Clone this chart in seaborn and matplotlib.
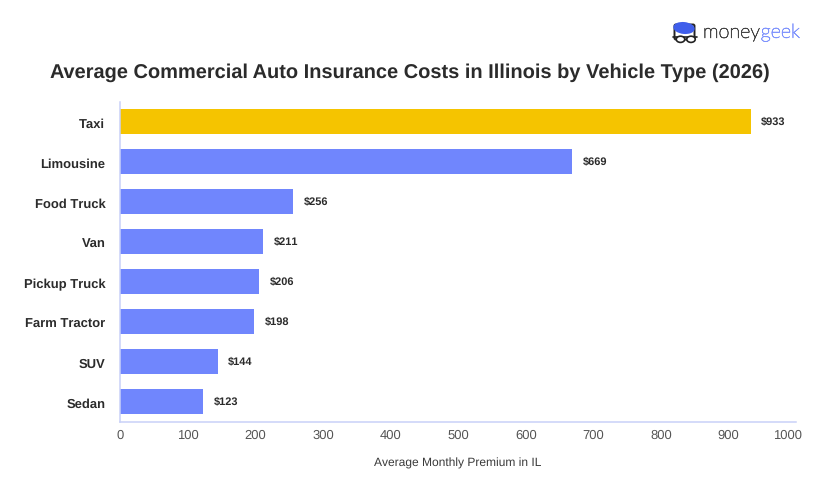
import matplotlib
matplotlib.use("Agg")
import matplotlib.pyplot as plt
import matplotlib.patheffects as pe
from matplotlib.patches import Ellipse, FancyBboxPatch
from matplotlib.transforms import ScaledTranslation
import pandas as pd
import seaborn as sns

vehicle_types = ["Taxi", "Limousine", "Food Truck", "Van", "Pickup Truck", "Farm Tractor", "SUV", "Sedan"]
premiums = [933, 669, 256, 211, 206, 198, 144, 123]
highlighted = "Taxi"

TITLE = "Average Commercial Auto Insurance Costs in Illinois by Vehicle Type (2026)"
X_LABEL = "Average Monthly Premium in IL"
X_TICKS = [0, 100, 200, 300, 400, 500, 600, 700, 800, 900, 1000]

BLUE = "#7086FD"
GOLD = "#F5C400"
AXIS = "#C9D1F8"
DARK = "#2B2B2B"
W, H = 820, 500

sns.set_theme(style="white")
plt.rcParams["font.family"] = ["Liberation Sans", "DejaVu Sans"]
plt.rcParams["text.hinting"] = "no_hinting"
plt.rcParams["text.hinting_factor"] = 1

fig = plt.figure(figsize=(W / 100, H / 100), dpi=100, facecolor="white")
ax = fig.add_axes([120.3 / W, 1 - 421.7 / H, (796 - 120.3) / W, 320 / H])

df = pd.DataFrame({"vehicle": vehicle_types, "premium": premiums})
palette = {v: (GOLD if v == highlighted else BLUE) for v in vehicle_types}
sns.barplot(data=df, y="vehicle", x="premium", hue="vehicle", palette=palette,
            order=vehicle_types, hue_order=vehicle_types, legend=False,
            width=0.625, saturation=1, linewidth=0, ax=ax)

ax.set_xlim(0, 1000)
ax.set_ylim(len(vehicle_types) - 0.5, -0.5)
ax.set_xticks(X_TICKS)
ax.set_xlabel(X_LABEL, fontsize=8.55, color="#3A3A3A", labelpad=11.6)
ax.set_ylabel("")

sns.despine(ax=ax)
for side in ("left", "bottom"):
    ax.spines[side].set_color(AXIS)
    ax.spines[side].set_linewidth(1.1)

ax.tick_params(axis="x", length=3.5, width=0.8, color="#777777", labelsize=9.2, labelcolor="#555555", pad=2)
ax.tick_params(axis="y", length=0, labelsize=9.4, labelcolor=DARK, pad=10.8)

# Category names sit slightly below their bar centres
nudge_down = ScaledTranslation(0, -1.5 / 100, fig.dpi_scale_trans)
for label in ax.get_yticklabels():
    label.set_fontweight("bold")
    label.set_transform(label.get_transform() + nudge_down)

# The last tick label is pulled inward so it stays within the plot's right edge
last = ax.get_xticklabels()[-1]
last.set_transform(last.get_transform() + ScaledTranslation(-9 / 100, 0, fig.dpi_scale_trans))

for container in ax.containers:
    ax.bar_label(container, fmt="${:.0f}", padding=7.6, fontsize=8,
                 fontweight="bold", color=DARK)

fig.text(410 / W, 1 - 72.5 / H, TITLE, ha="center", va="center",
         fontsize=14.4, fontweight="bold", color=DARK)

# Brand mark: hair, glasses and wordmark drawn on a pixel-scaled overlay
logo = fig.add_axes([0, 0, 1, 1], facecolor="none")
logo.set_xlim(0, W)
logo.set_ylim(H, 0)
logo.axis("off")
logo.add_patch(FancyBboxPatch((676, 26), 17, 12, boxstyle="round,pad=1.5", fc="white", ec="#222222", lw=1.4, zorder=1))
logo.add_patch(Ellipse((684, 28), 20, 10.5, angle=6, color="#3F5EEB", zorder=2))
logo.plot([673.5, 697.5], [36.6, 36.6], color="#222222", lw=1.2, zorder=3)
for cx in (680.5, 691):
    logo.add_patch(Ellipse((cx, 39.3), 8.5, 6.2, fc="white", ec="#222222", lw=1.2, zorder=3))


def wordmark_part(x, text, color):
    # Thin letters get a hairline stroke in their own colour so they hold up at this size
    part = logo.text(x, 32.5, text, fontsize=14.2, color=color, va="center", ha="left",
                     family=["Lato", "DejaVu Sans"], fontweight="light",
                     path_effects=[pe.withStroke(linewidth=0.45, foreground=color)])
    fig.canvas.draw()
    return part.get_window_extent().x1


end = wordmark_part(703, "money", "#444444")
wordmark_part(end, "geek", "#7F93FD")

fig.savefig("out.png", dpi=100, facecolor="white")
